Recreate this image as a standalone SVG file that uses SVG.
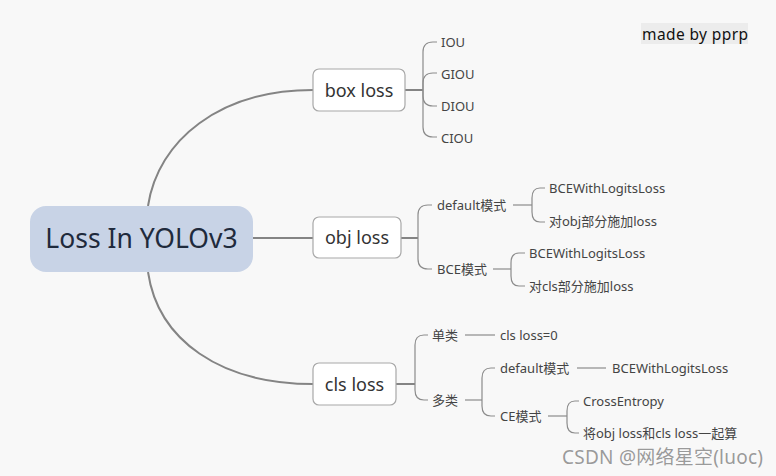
<svg xmlns="http://www.w3.org/2000/svg" width="776" height="476" viewBox="0 0 776 476">
<style>
text{font-family:"Noto Sans","Noto Sans CJK SC",sans-serif;}
.main{fill:none;stroke:#848484;stroke-width:2;}
.sub{fill:none;stroke:#8c8c8c;stroke-width:1.2;}
.box{fill:#ffffff;stroke:#a8a8a8;stroke-width:1.2;}
.bt{font-size:18px;fill:#333;text-anchor:middle;}
.leaf{font-size:13px;fill:#444;dominant-baseline:central;}
</style>
<rect x="0" y="0" width="776" height="476" fill="#f8f8f8"/>
<g id="connectors">
<path class="main" d="M148,206 C158,140 220,90 313,90"/>
<path class="main" d="M253,238 H313"/>
<path class="main" d="M148,272 C158,340 220,384 313,384"/>
<path class="main" d="M405,90 H423"/>
<path class="sub" d="M423,90 V52 Q423,42 433,42 H437"/>
<path class="sub" d="M423,90 V83 Q423,73 433,73 H437"/>
<path class="sub" d="M423,90 V96 Q423,106 433,106 H437"/>
<path class="sub" d="M423,90 V127 Q423,137 433,137 H437"/>
<path class="main" d="M401,238 H418"/>
<path class="sub" d="M418,238 V215 Q418,205 428,205 H432"/>
<path class="sub" d="M418,238 V259 Q418,269 428,269 H432"/>
<path class="sub" d="M513,205 H532"/>
<path class="sub" d="M532,205 V198 Q532,188 540,188 H545"/>
<path class="sub" d="M532,205 V212 Q532,222 540,222 H545"/>
<path class="sub" d="M493,269 H511"/>
<path class="sub" d="M511,269 V263 Q511,253 519,253 H525"/>
<path class="sub" d="M511,269 V276 Q511,286 519,286 H525"/>
<path class="main" d="M396,384 H415"/>
<path class="sub" d="M415,384 V345 Q415,335 424,335 H428"/>
<path class="sub" d="M415,384 V390 Q415,400 424,400 H428"/>
<path class="sub" d="M465,335 H495"/>
<path class="sub" d="M465,400 H482"/>
<path class="sub" d="M482,400 V378 Q482,368 491,368 H495"/>
<path class="sub" d="M482,400 V406 Q482,416 491,416 H495"/>
<path class="sub" d="M577,368 H606"/>
<path class="sub" d="M548,416 H567"/>
<path class="sub" d="M567,416 V411 Q567,401 575,401 H579"/>
<path class="sub" d="M567,416 V423 Q567,433 575,433 H579"/>
</g>
<g id="root">
<rect x="30" y="206" width="223" height="66" rx="16" fill="#c8d3e6"/>
<text x="141.5" y="248" font-size="26.5" fill="#1f2a3c" text-anchor="middle">Loss In YOLOv3</text>
</g>
<g id="box-loss">
<rect class="box" x="313" y="69" width="92" height="42" rx="6"/>
<text class="bt" x="359" y="97">box loss</text>
</g>
<g id="obj-loss">
<rect class="box" x="313" y="217" width="88" height="41" rx="6"/>
<text class="bt" x="357" y="244">obj loss</text>
</g>
<g id="cls-loss">
<rect class="box" x="313" y="363" width="83" height="42" rx="6"/>
<text class="bt" x="354.5" y="391">cls loss</text>
</g>
<g id="iou"><text class="leaf" x="441" y="42">IOU</text></g>
<g id="giou"><text class="leaf" x="441" y="74">GIOU</text></g>
<g id="diou"><text class="leaf" x="441" y="106">DIOU</text></g>
<g id="ciou"><text class="leaf" x="441" y="138">CIOU</text></g>
<g id="obj-default"><text class="leaf" x="437" y="205">default模式</text></g>
<g id="obj-bce"><text class="leaf" x="437" y="269">BCE模式</text></g>
<g id="obj-default-1"><text class="leaf" x="549" y="188">BCEWithLogitsLoss</text></g>
<g id="obj-default-2"><text class="leaf" x="549" y="221">对obj部分施加loss</text></g>
<g id="obj-bce-1"><text class="leaf" x="529" y="253">BCEWithLogitsLoss</text></g>
<g id="obj-bce-2"><text class="leaf" x="529" y="286">对cls部分施加loss</text></g>
<g id="single"><text class="leaf" x="432" y="335">单类</text></g>
<g id="single-1"><text class="leaf" x="500" y="335">cls loss=0</text></g>
<g id="multi"><text class="leaf" x="432" y="400">多类</text></g>
<g id="cls-default"><text class="leaf" x="500" y="368">default模式</text></g>
<g id="cls-default-1"><text class="leaf" x="612" y="368">BCEWithLogitsLoss</text></g>
<g id="cls-ce"><text class="leaf" x="500" y="416">CE模式</text></g>
<g id="cls-ce-1"><text class="leaf" x="583" y="401">CrossEntropy</text></g>
<g id="cls-ce-2"><text class="leaf" x="583" y="433">将obj loss和cls loss一起算</text></g>
<g id="label">
<rect x="641" y="23" width="107" height="21" fill="#ececec"/>
<text x="642" y="40" font-size="15.5" fill="#111" textLength="106">made by pprp</text>
</g>
<text x="562" y="464" font-size="19" fill="#9a9a9a" stroke="#ffffff" stroke-width="0.6" paint-order="stroke" textLength="201">CSDN @网络星空(luoc)</text>
</svg>
